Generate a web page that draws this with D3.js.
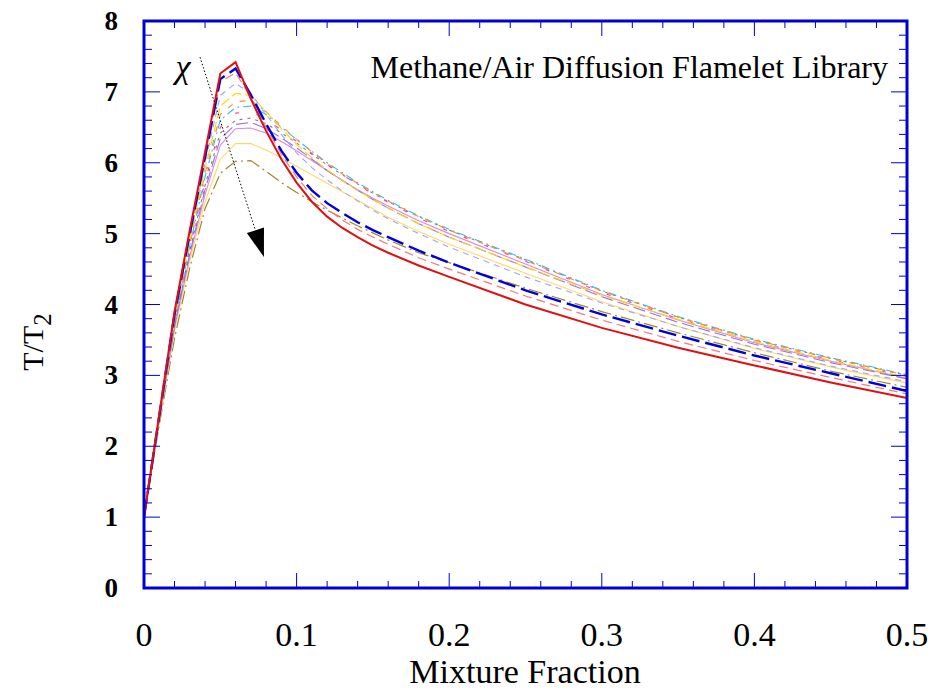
<!DOCTYPE html>
<html>
<head>
<meta charset="utf-8">
<style>
    body { margin: 0; background: #fff; }
    svg { display: block; }
    .tick-label { font-family: "Liberation Serif", "Times New Roman", serif; fill: #000; }
</style>
</head>
<body>
<svg width="931" height="691"></svg>
<script src="https://d3js.org/d3.v7.min.js"></script>
<script>
    // mixture fraction grid shared by every flamelet
    const zGrid = [0, 0.01, 0.02, 0.03, 0.04, 0.05, 0.06, 0.07, 0.08, 0.09, 0.1, 0.11, 0.12,
        0.13, 0.14, 0.15, 0.16, 0.18, 0.2, 0.25, 0.3, 0.35, 0.4, 0.45, 0.5]

    // T/T2 for each flamelet (equilibrium first, then increasing chi)
    const tRed      = [1.00, 2.45, 3.90, 5.05, 6.15, 7.26, 7.42, 6.90, 6.45, 6.05, 5.72, 5.45, 5.24, 5.08, 4.95, 4.83, 4.73, 4.55, 4.39, 4.00, 3.67, 3.39, 3.14, 2.90, 2.68]
    const tBlue     = [1.00, 2.43, 3.86, 5.00, 6.08, 7.18, 7.33, 6.96, 6.55, 6.17, 5.86, 5.61, 5.43, 5.29, 5.16, 5.05, 4.95, 4.76, 4.59, 4.20, 3.86, 3.56, 3.28, 3.03, 2.78]
    const tSalmon   = [1.00, 2.44, 3.88, 5.02, 6.10, 7.14, 7.27, 6.92, 6.50, 6.12, 5.80, 5.54, 5.35, 5.19, 5.06, 4.95, 4.85, 4.66, 4.50, 4.12, 3.78, 3.48, 3.21, 2.97, 2.74]
    const tLavender = [1.00, 2.42, 3.83, 4.95, 6.00, 6.95, 7.12, 6.98, 6.68, 6.40, 6.14, 5.93, 5.76, 5.60, 5.46, 5.33, 5.21, 5.00, 4.81, 4.39, 4.02, 3.69, 3.39, 3.13, 2.91]
    const tGold     = [1.00, 2.41, 3.80, 4.90, 5.92, 6.80, 6.98, 6.95, 6.72, 6.48, 6.26, 6.07, 5.90, 5.75, 5.61, 5.48, 5.36, 5.14, 4.95, 4.53, 4.13, 3.79, 3.48, 3.21, 2.97]
    const tOrange   = [1.00, 2.40, 3.78, 4.86, 5.85, 6.68, 6.86, 6.88, 6.72, 6.52, 6.33, 6.15, 5.99, 5.84, 5.71, 5.58, 5.46, 5.24, 5.05, 4.62, 4.19, 3.82, 3.50, 3.24, 3.00]
    const tCyan     = [1.00, 2.40, 3.76, 4.83, 5.80, 6.60, 6.78, 6.80, 6.68, 6.50, 6.33, 6.16, 6.00, 5.86, 5.72, 5.59, 5.47, 5.25, 5.06, 4.64, 4.20, 3.83, 3.51, 3.25, 3.01]
    const tPink     = [1.00, 2.39, 3.74, 4.80, 5.74, 6.50, 6.70, 6.72, 6.62, 6.46, 6.30, 6.13, 5.97, 5.83, 5.69, 5.56, 5.44, 5.22, 5.03, 4.61, 4.17, 3.80, 3.48, 3.22, 2.98]
    const tGray     = [1.00, 2.38, 3.72, 4.76, 5.68, 6.42, 6.60, 6.63, 6.55, 6.42, 6.28, 6.12, 5.97, 5.83, 5.70, 5.57, 5.45, 5.24, 5.05, 4.63, 4.19, 3.82, 3.50, 3.24, 3.00]
    const tPurple   = [1.00, 2.37, 3.70, 4.72, 5.62, 6.34, 6.54, 6.57, 6.48, 6.35, 6.21, 6.05, 5.89, 5.75, 5.61, 5.48, 5.36, 5.14, 4.95, 4.53, 4.11, 3.75, 3.44, 3.18, 2.95]
    const tPlum     = [1.00, 2.36, 3.67, 4.68, 5.55, 6.25, 6.48, 6.49, 6.42, 6.30, 6.17, 6.03, 5.89, 5.75, 5.62, 5.50, 5.39, 5.18, 5.00, 4.57, 4.14, 3.78, 3.46, 3.20, 2.96]
    const tLtYellow = [1.00, 2.34, 3.62, 4.62, 5.45, 6.05, 6.27, 6.27, 6.18, 6.07, 5.95, 5.83, 5.71, 5.59, 5.47, 5.35, 5.23, 5.03, 4.85, 4.44, 4.04, 3.69, 3.38, 3.12, 2.89]
    const tOlive    = [1.00, 2.30, 3.52, 4.52, 5.35, 5.85, 6.02, 6.03, 5.88, 5.72, 5.58, 5.45, 5.33, 5.22, 5.11, 5.01, 4.91, 4.73, 4.59, 4.23, 3.90, 3.60, 3.32, 3.06, 2.83]

    // tick values
    const xMajor = [0, 0.1, 0.2, 0.3, 0.4, 0.5]
    const xMinor = d3.range(0, 0.5001, 0.02)
    const yMajor = [0, 1, 2, 3, 4, 5, 6, 7, 8]
    const yMinor = d3.range(0, 8.001, 0.2)

    // chi arrow annotation, in data units
    const arrowFrom = [0.0367, 7.49]
    const arrowTo = [0.0786, 4.67]

    let width = 931
    let height = 691
    let margin = { top: 21, right: 24, bottom: 103, left: 144 }
    let frame = "#0000d4"

    let svg = d3.select("svg")

    let x = d3.scaleLinear()
        .domain([0, 0.5])
        .range([margin.left, width - margin.right])

    let y = d3.scaleLinear()
        .domain([0, 8])
        .range([height - margin.bottom, margin.top])

    // styles per flamelet, drawn back to front
    let flamelets = [
        { t: tOlive,    color: "#9a8a2e", w: 1.2, dash: "14,4,2,4" },
        { t: tLtYellow, color: "#ffd966", w: 1.1, dash: null },
        { t: tPlum,     color: "#dd88e0", w: 1.1, dash: null },
        { t: tPurple,   color: "#9a6fe0", w: 1.1, dash: "12,5" },
        { t: tGray,     color: "#808080", w: 1.1, dash: "3,5" },
        { t: tPink,     color: "#ff3a9a", w: 1.1, dash: "4,18" },
        { t: tCyan,     color: "#2ec0f0", w: 1.1, dash: "8,4,2,4" },
        { t: tOrange,   color: "#ff8a30", w: 1.1, dash: "6,8" },
        { t: tGold,     color: "#ffd400", w: 1.1, dash: "10,4" },
        { t: tLavender, color: "#9ea4ff", w: 1.1, dash: "6,5" },
        { t: tSalmon,   color: "#f47a7a", w: 1.2, dash: "9,5" },
        { t: tBlue,     color: "#0000dd", w: 2.4, dash: "18,6" },
        { t: tRed,      color: "#e01010", w: 2.0, dash: null }
    ]

    svg.append("clipPath")
        .attr("id", "plot-clip")
        .append("rect")
        .attr("x", x(0))
        .attr("y", y(8))
        .attr("width", x(0.5) - x(0))
        .attr("height", y(0) - y(8))

    let line = d3.line()
        .x((d, i) => x(zGrid[i]))
        .y(d => y(d))

    svg.append("g")
        .attr("clip-path", "url(#plot-clip)")
        .selectAll("path")
        .data(flamelets)
        .join("path")
        .attr("d", d => line(d.t))
        .attr("fill", "none")
        .attr("stroke", d => d.color)
        .attr("stroke-width", d => d.w)
        .attr("stroke-dasharray", d => d.dash)
        .attr("stroke-linejoin", "miter")

    // ticks on all four sides, pointing inwards
    let ticks = svg.append("g")
        .attr("stroke", frame)
        .attr("stroke-width", 1)

    let xTicks = xMinor.map(v => ({ v: v, len: xMajor.some(m => Math.abs(m - v) < 1e-6) ? 15 : 7 }))
    let yTicks = yMinor.map(v => ({ v: v, len: yMajor.some(m => Math.abs(m - v) < 1e-6) ? 16 : 8 }))

    ticks.selectAll(".xb").data(xTicks).join("line")
        .attr("x1", d => x(d.v)).attr("x2", d => x(d.v))
        .attr("y1", y(0)).attr("y2", d => y(0) - d.len)
    ticks.selectAll(".xt").data(xTicks).join("line")
        .attr("x1", d => x(d.v)).attr("x2", d => x(d.v))
        .attr("y1", y(8)).attr("y2", d => y(8) + d.len)
    ticks.selectAll(".yl").data(yTicks).join("line")
        .attr("y1", d => y(d.v)).attr("y2", d => y(d.v))
        .attr("x1", x(0)).attr("x2", d => x(0) + d.len)
    ticks.selectAll(".yr").data(yTicks).join("line")
        .attr("y1", d => y(d.v)).attr("y2", d => y(d.v))
        .attr("x1", x(0.5)).attr("x2", d => x(0.5) - d.len)

    // frame
    svg.append("rect")
        .attr("x", x(0))
        .attr("y", y(8))
        .attr("width", x(0.5) - x(0))
        .attr("height", y(0) - y(8))
        .attr("fill", "none")
        .attr("stroke", frame)
        .attr("stroke-width", 3)

    // tick labels
    svg.append("g")
        .selectAll("text")
        .data(yMajor)
        .join("text")
        .attr("class", "tick-label")
        .attr("x", 118)
        .attr("y", d => y(d) + 9)
        .attr("text-anchor", "end")
        .style("font-size", "27px")
        .style("font-weight", "bold")
        .text(d => d)

    svg.append("g")
        .selectAll("text")
        .data(xMajor)
        .join("text")
        .attr("class", "tick-label")
        .attr("x", d => x(d))
        .attr("y", 646)
        .attr("text-anchor", "middle")
        .style("font-size", "34px")
        .text(d => d3.format("~g")(d))

    // axis titles
    svg.append("text")
        .attr("class", "tick-label")
        .attr("x", 525)
        .attr("y", 683)
        .attr("text-anchor", "middle")
        .style("font-size", "34px")
        .text("Mixture Fraction")

    let yTitle = svg.append("text")
        .attr("class", "tick-label")
        .attr("transform", "translate(43,342) rotate(-90)")
        .attr("text-anchor", "middle")
        .style("font-size", "30px")
    yTitle.append("tspan").text("T/T")
    yTitle.append("tspan").attr("dy", 8).style("font-size", "25px").text("2")

    // title inside the plot
    svg.append("text")
        .attr("class", "tick-label")
        .attr("x", 888)
        .attr("y", 78)
        .attr("text-anchor", "end")
        .style("font-size", "32px")
        .text("Methane/Air Diffusion Flamelet Library")

    // chi arrow
    let ax1 = x(arrowFrom[0]), ay1 = y(arrowFrom[1])
    let ax2 = x(arrowTo[0]), ay2 = y(arrowTo[1])
    let ang = Math.atan2(ay2 - ay1, ax2 - ax1)
    let headLen = 28, headHalf = 9
    let bx = ax2 - headLen * Math.cos(ang), by = ay2 - headLen * Math.sin(ang)

    svg.append("line")
        .attr("x1", ax1).attr("y1", ay1)
        .attr("x2", bx).attr("y2", by)
        .attr("stroke", "#000")
        .attr("stroke-width", 1)
        .attr("stroke-dasharray", "1.5,2")

    svg.append("path")
        .attr("d", `M${ax2},${ay2}L${bx - headHalf * Math.sin(ang)},${by + headHalf * Math.cos(ang)}L${bx + headHalf * Math.sin(ang)},${by - headHalf * Math.cos(ang)}Z`)
        .attr("fill", "#000")

    svg.append("text")
        .attr("x", x(0.0255))
        .attr("y", y(7.2))
        .attr("text-anchor", "middle")
        .style("font-family", "'Liberation Serif', serif")
        .style("font-style", "italic")
        .style("font-size", "34px")
        .text("χ")
</script>
</body>
</html>
